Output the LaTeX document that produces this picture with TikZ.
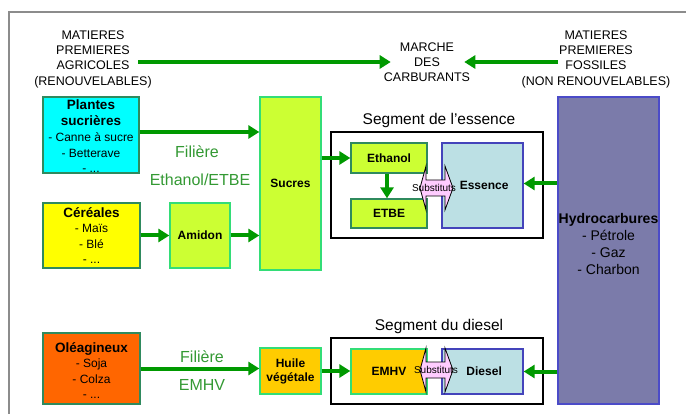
\documentclass[tikz,border=0pt]{standalone}
\usepackage{fontspec}
\setmainfont{Liberation Sans}
\usetikzlibrary{arrows.meta}
\definecolor{arrgreen}{HTML}{009900}
\definecolor{filgreen}{HTML}{339933}
\definecolor{darkborder}{HTML}{2F8A5E}
\definecolor{lightborder}{HTML}{33DD77}
\definecolor{cyanfill}{HTML}{00FFFF}
\definecolor{yellowfill}{HTML}{FFFF00}
\definecolor{orangefill}{HTML}{FF6600}
\definecolor{limefill}{HTML}{CCFF33}
\definecolor{goldfill}{HTML}{FFCC00}
\definecolor{bluefill}{HTML}{BCE0E4}
\definecolor{blueborder}{HTML}{4444BB}
\definecolor{hydrofill}{HTML}{7B7BAA}
\definecolor{hydroborder}{HTML}{4B4BC8}
\definecolor{subpink}{HTML}{FFCCFF}
\definecolor{framegray}{HTML}{8C8C8C}
\tikzset{
  box/.style={draw, line width=1.3pt, inner sep=0pt, align=center},
  lbl/.style={font=\bfseries\fontsize{12}{14}\selectfont},
  toptext/.style={align=center, inner sep=0pt, font=\fontsize{12.5}{15.3}\selectfont},
  seglabel/.style={inner sep=0pt, font=\fontsize{15.5}{18}\selectfont},
  filtext/.style={inner sep=0pt, text=filgreen, font=\fontsize{16}{18}\selectfont},
  segbox/.style={draw=black, line width=1.5pt},
  arr/.style={draw=arrgreen, line width=4pt, -{Triangle[length=11pt,width=13pt]}},
  substarrow/.pic={
    \draw[fill=subpink, line width=0.8pt] (-17,0) -- (-11,-22) -- (-11,-8) -- (8,-8) -- (8,-22)
      -- (16,0) -- (8,22) -- (8,8) -- (-11,8) -- (-11,22) -- cycle;
  }
}
\begin{document}
\begin{tikzpicture}[x=1pt,y=-1pt]
\useasboundingbox (0,0) rectangle (686,414);
\fill[white] (0,0) rectangle (686,414);
% frame
\draw[framegray, line width=1.5pt] (9,414) -- (9,12) -- (686,12);

% top texts
\node[toptext] (agri) at (93,59) {MATIERES\\PREMIERES\\AGRICOLES\\(RENOUVELABLES)};
\node[toptext] (marche) at (427,62) {MARCHE\\DES\\CARBURANTS};
\node[toptext] (foss) at (596,59) {MATIERES\\PREMIERES\\FOSSILES\\(NON RENOUVELABLES)};
\coordinate (agrisrc) at (138,62);
\coordinate (fossrc) at (558,62);

% left boxes
\node[box, draw=darkborder, fill=cyanfill, minimum width=96pt, minimum height=76pt] (plantes) at (91,135) {};
\begin{scope}
  \clip (plantes.south west) rectangle (plantes.north east);
  \node[align=center, inner sep=0pt, font=\fontsize{12}{15.8}\selectfont] (plantestxt) at (91,136.5)
    {{\bfseries\fontsize{13.5}{16}\selectfont Plantes}\\{\bfseries\fontsize{13.5}{16}\selectfont sucrières}\\- Canne à sucre\\- Betterave\\- ...};
\end{scope}
\node[box, draw=darkborder, fill=yellowfill, minimum width=97pt, minimum height=65pt,
      font=\fontsize{12}{15.5}\selectfont] (cereales) at (91.5,235.5)
  {{\bfseries\fontsize{13.5}{16}\selectfont Céréales}\\- Maïs\\- Blé\\- ...};
\node[box, draw=darkborder, fill=orangefill, minimum width=97pt, minimum height=71pt] (oleag) at (91.5,368.5) {};
\node[align=center, inner sep=0pt, font=\fontsize{12}{15.5}\selectfont] (oleagtxt) at (91.5,370.5)
  {{\bfseries\fontsize{13.5}{16}\selectfont Oléagineux}\\- Soja\\- Colza\\- ...};

% middle boxes
\node[box, lbl, draw=lightborder, fill=limefill, minimum width=61pt, minimum height=173pt] (sucres) at (290.5,183.5) {Sucres};
\node[box, lbl, draw=lightborder, fill=limefill, minimum width=60pt, minimum height=65pt] (amidon) at (200,235.5) {Amidon};
\node[box, lbl, draw=lightborder, fill=goldfill, minimum width=61pt, minimum height=46pt] (huile) at (290.5,371) {Huile\\végétale};

% filiere labels
\node[filtext] (fil1) at (197,152) {Filière};
\node[filtext] (fil1b) at (200,180) {Ethanol/ETBE};
\node[filtext] (fil2) at (202,357) {Filière};
\node[filtext] (fil2b) at (202,385) {EMHV};

% segments
\node[seglabel] (segElbl) at (439,120) {Segment de l’essence};
\node[segbox, minimum width=212pt, minimum height=106pt, inner sep=0pt] (segE) at (437,185) {};
\node[seglabel] (segDlbl) at (439,326) {Segment du diesel};
\node[segbox, minimum width=212pt, minimum height=66pt, inner sep=0pt] (segD) at (437,371) {};

\node[box, lbl, draw=darkborder, fill=limefill, minimum width=76pt, minimum height=30pt] (ethanol) at (389,158) {Ethanol};
\node[box, lbl, draw=darkborder, fill=limefill, minimum width=76pt, minimum height=29pt] (etbe) at (389,213.5) {ETBE};
\node[box, lbl, draw=blueborder, fill=bluefill, minimum width=81pt, minimum height=85pt] (essence) at (482.5,185.5) {\ Essence};
\node[box, lbl, draw=lightborder, fill=goldfill, minimum width=76pt, minimum height=45pt] (emhv) at (389,371.5) {EMHV};
\node[box, lbl, draw=blueborder, fill=bluefill, minimum width=81pt, minimum height=45pt] (diesel) at (482.5,371.5) {\ Diesel};

% hydrocarbures
\node[box, draw=hydroborder, fill=hydrofill, minimum width=101pt, minimum height=307pt] (hydro) at (608.5,250.5) {};
\node[align=center, inner sep=0pt, font=\fontsize{14}{17}\selectfont] (hydrotxt) at (608.5,244)
  {{\bfseries\fontsize{14}{17}\selectfont Hydrocarbures}\\- Pétrole\\- Gaz\\- Charbon};

% substitution arrows
\pic at (437,188) {substarrow};
\node[inner sep=0pt, font=\fontsize{10}{12}\selectfont] (subE) at (434,188) {Substituts};
\pic at (437,370) {substarrow};
\node[inner sep=0pt, font=\fontsize{10}{12}\selectfont] (subD) at (436,370) {Substituts};

% arrows
\draw[arr] (agrisrc) -- ([xshift=7pt]marche.west);
\draw[arr] (fossrc) -- ([xshift=-6pt]marche.east);
\draw[arr] ([yshift=3pt]plantes.east) -- ([yshift=3pt]plantes.east -| sucres.west);
\draw[arr] (cereales.east) -- (amidon.west);
\draw[arr] (amidon.east) -- (amidon.east -| sucres.west);
\draw[arr] (oleag.east) -- (oleag.east -| huile.west);
\draw[arr] (huile.east) -- (huile.east -| emhv.west);
\draw[arr] (sucres.east |- ethanol.west) -- (ethanol.west);
\draw[arr] ([xshift=-2pt]ethanol.south) -- ([xshift=-2pt]etbe.north);
\draw[arr] ([yshift=2pt]hydro.west |- essence.east) -- ([yshift=2pt]essence.east);
\draw[arr] (hydro.west |- diesel.east) -- (diesel.east);
\end{tikzpicture}
\end{document}
